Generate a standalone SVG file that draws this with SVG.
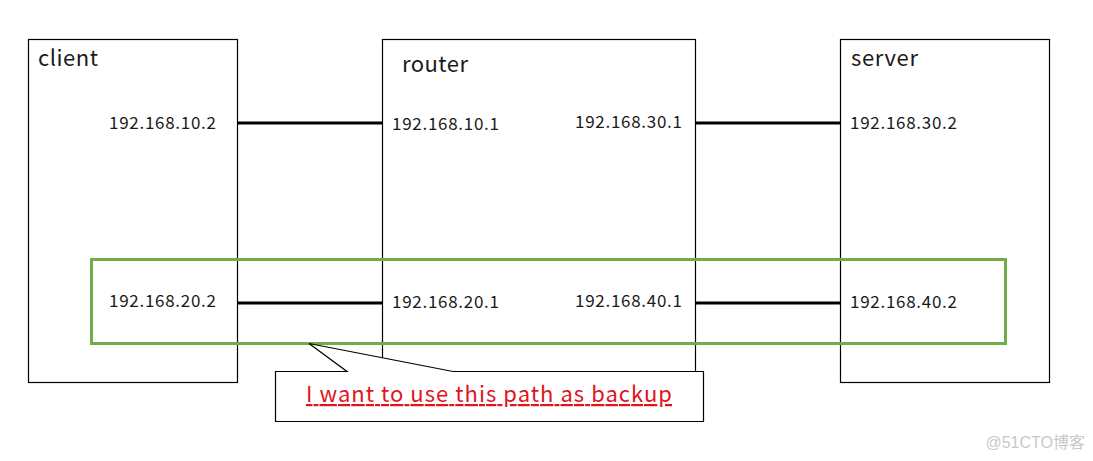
<svg xmlns="http://www.w3.org/2000/svg" width="1093" height="461" viewBox="0 0 1093 461">
<style>
.box{fill:#fff;stroke:#000;stroke-width:1.2}
.t{font-family:"Noto Sans CJK JP","Liberation Sans",sans-serif;fill:#1a1a1a}
.ip{font-size:17px}
.name{font-size:22px}
.link{stroke:#000;stroke-width:3}
</style>
<rect width="1093" height="461" fill="#fff"/>
<g id="client">
<rect class="box" x="28.5" y="39.5" width="209" height="343"/>
<text class="t name" x="38" y="66" textLength="60">client</text>
<text class="t ip" x="109" y="129" textLength="107">192.168.10.2</text>
<text class="t ip" x="109" y="307" textLength="107">192.168.20.2</text>
</g>
<g id="router">
<rect class="box" x="382.5" y="39.5" width="313" height="343"/>
<text class="t name" x="402" y="72" textLength="66">router</text>
<text class="t ip" x="392" y="130" textLength="107">192.168.10.1</text>
<text class="t ip" x="575" y="128" textLength="107">192.168.30.1</text>
<text class="t ip" x="392" y="308" textLength="107">192.168.20.1</text>
<text class="t ip" x="575" y="307" textLength="107">192.168.40.1</text>
</g>
<g id="server">
<rect class="box" x="840.5" y="39.5" width="209" height="343"/>
<text class="t name" x="851" y="66" textLength="67">server</text>
<text class="t ip" x="850" y="129" textLength="107">192.168.30.2</text>
<text class="t ip" x="850" y="308" textLength="107">192.168.40.2</text>
</g>
<g id="connectors">
<line class="link" x1="237" y1="123" x2="382" y2="123"/>
<line class="link" x1="695" y1="123" x2="840" y2="123"/>
<line class="link" x1="237" y1="303" x2="382" y2="303"/>
<line class="link" x1="695" y1="303" x2="840" y2="303"/>
</g>
<g id="backup-path">
<rect x="91.5" y="259.5" width="914" height="84" fill="none" stroke="#70AD47" stroke-width="3"/>
</g>
<g id="callout">
<path d="M275.5,371.5 L347,371.5 L309,343.5 L453,371.5 L703.5,371.5 L703.5,421.5 L275.5,421.5 Z" fill="#fff" stroke="#000" stroke-width="1.2"/>
<text x="489" y="402" text-anchor="middle" font-family="Noto Sans CJK JP,Liberation Sans,sans-serif" font-size="22" fill="#E0141E" text-decoration="underline" textLength="366">I want to use this path as backup</text>
</g>
<text x="1085" y="448" text-anchor="end" font-family="Liberation Sans,Noto Sans CJK SC,sans-serif" font-size="16" fill="#c8c8c8">@51CTO博客</text>
</svg>
